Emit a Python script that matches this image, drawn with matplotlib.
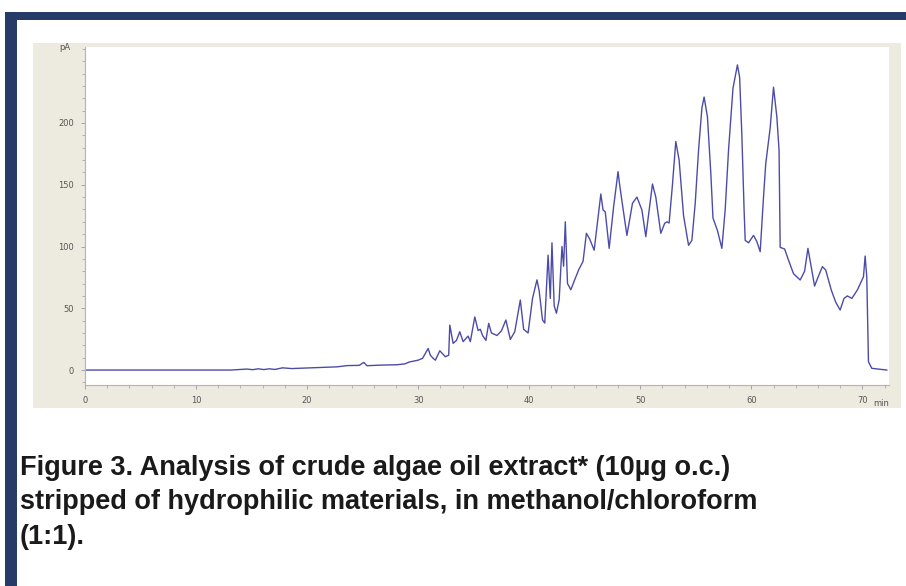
import numpy as np
import matplotlib.pyplot as plt
from matplotlib.patches import Rectangle
from matplotlib.ticker import MultipleLocator

# retention time (min) and detector signal (pA)
time = [0, 13.1, 14.6, 15.1, 15.6, 16.1, 16.6, 17.1, 17.8, 18.6, 19.8, 21.2, 22.7, 23.6,
        24.7, 25.1, 25.4, 26.6, 28.1, 28.8, 29.2, 30.0, 30.4, 30.9, 31.1, 31.35,
        31.55, 31.95, 32.45, 32.75, 32.85, 33.15, 33.45, 33.75, 34.05, 34.5, 34.7, 35.1,
        35.4, 35.6, 35.8, 36.1, 36.35, 36.6, 37.1, 37.5, 37.9, 38.3, 38.7, 39.2,
        39.5, 39.9, 40.3, 40.7, 40.9, 41.2, 41.4, 41.7, 41.9, 42.05, 42.25, 42.45,
        42.7, 42.95, 43.1, 43.25, 43.45, 43.75, 44.05, 44.45, 44.85, 45.15, 45.45, 45.85,
        46.45, 46.65, 46.85, 47.2, 47.6, 48.0, 48.1, 48.3, 48.8, 49.3, 49.7, 50.15,
        50.5, 51.1, 51.4, 51.85, 52.2, 52.4, 52.6, 52.9, 53.2, 53.5, 53.9, 54.35,
        54.65, 54.95, 55.25, 55.55, 55.75, 56.05, 56.35, 56.55, 56.95, 57.35, 57.65, 57.95,
        58.35, 58.75, 58.95, 59.15, 59.35, 59.45, 59.75, 60.2, 60.5, 60.8, 61.1, 61.3,
        61.7, 62.0, 62.3, 62.5, 62.6, 63.0, 63.35, 63.8, 64.4, 64.8, 65.1, 65.35,
        65.7, 66.0, 66.4, 66.7, 67.2, 67.6, 68.0, 68.35, 68.65, 69.05, 69.55, 70.1,
        70.25, 70.4, 70.55, 70.85, 72.2]
signal = [0, 0, 0.8, 0.3, 1.0, 0.4, 1.0, 0.5, 1.8, 1.2, 1.6, 2.0, 2.6, 3.6,
          3.8, 6.2, 3.5, 4.0, 4.3, 5.0, 6.5, 8.0, 9.5, 17.5, 12, 9.5,
          8, 15.6, 10.8, 12, 36.4, 21.6, 24, 31, 23, 27.5, 23, 43,
          32, 33, 28, 24, 37.8, 30, 28, 31.8, 40.5, 24.8, 31, 56.7,
          33, 30, 58, 73, 64, 40.5, 38, 93, 58, 103, 52, 46,
          57, 100, 84, 120, 70, 65, 72, 81, 88, 110.7, 106, 97,
          142.5, 129.6, 128, 98.5, 132, 160.6, 153, 140, 109, 135, 140, 129.6,
          108, 150.6, 140, 110.7, 118.8, 120, 119, 150, 185, 170, 125, 101,
          105, 135, 178, 212, 221, 205, 160, 123, 113, 98.5, 130, 178,
          228, 247, 237, 190, 130, 105, 103, 109, 104, 95.8, 140, 167,
          196, 229, 205, 178, 99.3, 98, 89, 78, 72.9, 80, 98.5, 86,
          68, 75, 83.7, 81, 64.8, 55, 48.6, 58, 60, 58, 64.8, 75.5,
          92.3, 75, 6.7, 1.4, 0]

caption = ("Figure 3. Analysis of crude algae oil extract* (10\u00b5g o.c.)\n"
           "stripped of hydrophilic materials, in methanol/chloroform\n"
           "(1:1).")

W, H = 906, 586
fig = plt.figure(figsize=(W / 100, H / 100), dpi=100)
fig.patch.set_facecolor('white')

def box(x0, y0, x1, y1, color):
    # rectangle given in pixel coords (origin top-left), drawn under the axes
    fig.patches.append(Rectangle((x0 / W, 1 - y1 / H), (x1 - x0) / W, (y1 - y0) / H,
                                 transform=fig.transFigure, facecolor=color,
                                 edgecolor='none', zorder=-5))

navy = '#263b67'
box(5, 12, W, 20, navy)
box(5, 12, 17, H, navy)
box(33, 43, 901, 408, '#edeae0')

ax = fig.add_axes([85 / W, 1 - 385 / H, 804 / W, 338 / H])
ax.set_zorder(2)
ax.set_facecolor('white')
ax.plot(time, signal, color='#4c4ca8', lw=1.0)

ax.set_xlim(0, 72.4)
ax.set_ylim(-12.1, 261.5)
ax.xaxis.set_major_locator(MultipleLocator(10))
ax.xaxis.set_minor_locator(MultipleLocator(2))
ax.yaxis.set_minor_locator(MultipleLocator(10))
ax.set_yticks([0, 50, 100, 150, 200])

for s in ['top', 'right']:
    ax.spines[s].set_visible(False)
for s in ['left', 'bottom']:
    ax.spines[s].set_color('#b4b4b4')
    ax.spines[s].set_linewidth(0.8)
ax.tick_params(which='both', colors='#9a9a9a', labelcolor='#555555', labelsize=6,
               direction='out')
ax.tick_params(which='major', length=3, width=0.6, pad=5)
ax.tick_params(which='minor', length=2, width=0.5)

ax.text(-0.018, 1.0, 'pA', transform=ax.transAxes, ha='right', va='center',
        fontsize=6, color='#555555')
ax.text(0.99, -0.04, 'min', transform=ax.transAxes, ha='center', va='top',
        fontsize=6, color='#555555')

fig.text(20 / W, 1 - 455 / H, caption, ha='left', va='top',
         family=['Liberation Sans', 'DejaVu Sans'],
         fontweight='bold', fontsize=19.5, color='#1a1a1a', linespacing=1.42)

fig.savefig('out.png', dpi=100)
